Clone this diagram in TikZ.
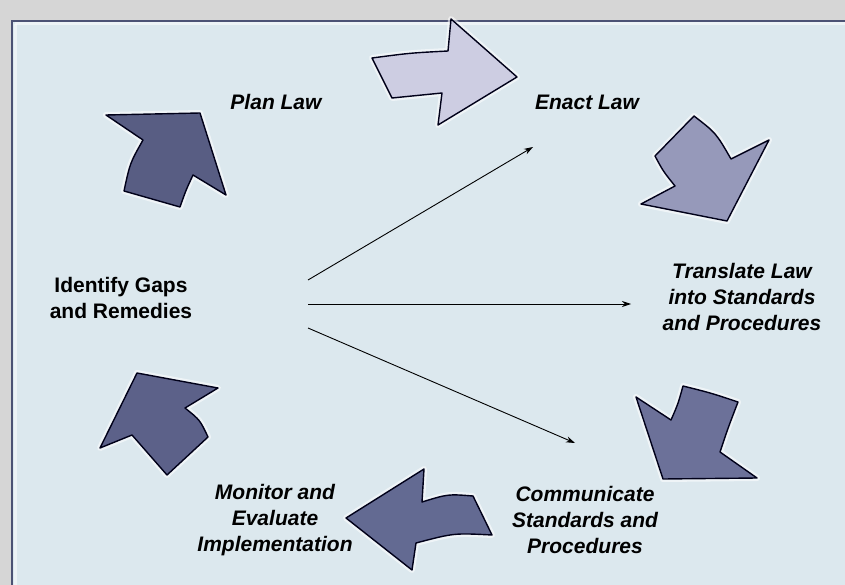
\documentclass[tikz,border=0pt]{standalone}
\usepackage{fontspec}
\setmainfont{Liberation Sans}
\usetikzlibrary{arrows.meta}
\definecolor{outerbg}{HTML}{D6D6D6}
\definecolor{innerbg}{HTML}{DCE8EE}
\definecolor{framec}{HTML}{4C5274}
\definecolor{cEnact}{HTML}{CDCDE2}
\definecolor{cTrans}{HTML}{9699BA}
\definecolor{cComm}{HTML}{6C7199}
\definecolor{cMon}{HTML}{636A92}
\definecolor{cGap}{HTML}{5C6189}
\definecolor{cPlan}{HTML}{585D83}
\tikzset{
  lbl/.style={font=\bfseries\itshape\fontsize{21}{26}\selectfont, align=center, text=black, inner sep=0pt},
  lblup/.style={font=\bfseries\fontsize{21}{26}\selectfont, align=center, text=black, inner sep=0pt},
  cyc/.style={draw=black!90!blue, line width=1.4pt, line join=round},
  glow/.style={draw=white, line width=6pt, opacity=0.55, line join=round},
  ray/.style={-{Stealth[length=9pt,width=6pt]}, line width=0.9pt, black}
}
\begin{document}
\begin{tikzpicture}[x=1pt,y=-1pt]
\useasboundingbox (0,0) rectangle (845,585);
% frame
\fill[outerbg] (0,0) rectangle (845,585);
\filldraw[fill=innerbg, draw=framec, line width=1.6pt] (12,21) rectangle (852,592);
\draw[white, opacity=0.5, line width=3pt] (15,24) -- (849,24);
\draw[white, opacity=0.5, line width=3pt] (15,24) -- (15,590);

% cycle arrows
\def\enactP{(451,19) -- (517,77) -- (438,125) -- (442,93) .. controls (417,96) .. (392,98) -- (372,58) .. controls (410,53) .. (448,51) -- cycle}
\def\transP{(694,116) .. controls (716,133) .. (731,159) -- (769,140) -- (727,221) -- (641,204) -- (675,186) .. controls (663,171) .. (655,156) -- cycle}
\def\commP{(683,386) .. controls (711,393) .. (738,402) .. controls (728,428) .. (720,452) -- (757,478) -- (663,479) -- (636,397) -- (671,420) .. controls (678,404) .. cycle}
\def\monP{(346,518) -- (424,469) -- (422,502) .. controls (448,494) .. (473,496) -- (492,535) .. controls (454,533) .. (416,543) -- (412,570) -- cycle}
\def\gapP{(137,373) -- (218,388) -- (185,408) .. controls (200,420) .. (208,437) -- (167,475) .. controls (149,455) .. (132,435) -- (100,448) -- cycle}
\def\planP{(106,115) -- (200,113) -- (226,195) -- (193,175) .. controls (186,190) .. (180,207) -- (124,191) .. controls (130,163) .. (143,140) -- cycle}

\draw[glow] \enactP; \filldraw[cyc, fill=cEnact] \enactP;
\draw[glow] \transP; \filldraw[cyc, fill=cTrans] \transP;
\draw[glow] \commP;  \filldraw[cyc, fill=cComm] \commP;
\draw[glow] \monP;   \filldraw[cyc, fill=cMon] \monP;
\draw[glow] \gapP;   \filldraw[cyc, fill=cGap] \gapP;
\draw[glow] \planP;  \filldraw[cyc, fill=cPlan] \planP;

% labels
\node[lbl] (plan) at (276,102) {Plan Law};
\node[lbl] (enact) at (587,102) {Enact Law};
\node[lbl] (trans) at (742,297) {Translate Law\\into Standards\\and Procedures};
\node[lbl] (comm) at (585,520) {Communicate\\Standards and\\Procedures};
\node[lbl] (mon) at (275,520) {Monitor and\\Evaluate\\Implementation};
\node[lblup] (gap) at (121,298) {Identify Gaps\\and Remedies};

% rays
\coordinate (s1) at (308,280);
\coordinate (s2) at (308,304);
\coordinate (s3) at (308,328);
\coordinate (t1) at (533,147);
\coordinate (t2) at (631,304);
\coordinate (t3) at (575,443);
\draw[ray] (s1) -- (t1);
\draw[ray] (s2) -- (t2);
\draw[ray] (s3) -- (t3);
\end{tikzpicture}
\end{document}
